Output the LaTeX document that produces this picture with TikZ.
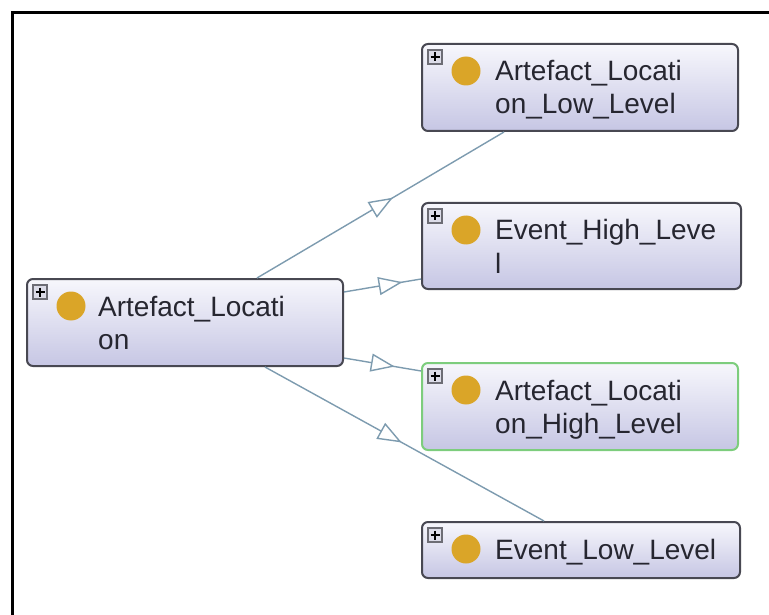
\documentclass[tikz,border=0pt]{standalone}
\usepackage{fontspec}
\setmainfont{Liberation Sans}
\usetikzlibrary{arrows.meta,decorations.markings,calc}
\definecolor{edgecol}{RGB}{125,155,175}
\definecolor{boxtop}{RGB}{247,247,252}
\definecolor{boxbot}{RGB}{198,198,228}
\definecolor{boxline}{RGB}{72,72,82}
\definecolor{greenline}{RGB}{125,205,125}
\definecolor{dotcol}{RGB}{218,165,40}
\definecolor{txtcol}{RGB}{38,38,48}
\definecolor{plusfill}{RGB}{220,220,232}
\newcommand\clsicons[1]{%
  \draw[draw=boxline!80, line width=1.2pt, fill=plusfill]
    ([shift={(7,7)}]#1.north west) rectangle ([shift={(21,21)}]#1.north west);
  \draw[line width=2pt, black]
    ([shift={(9.5,14)}]#1.north west) -- ([shift={(18.5,14)}]#1.north west)
    ([shift={(14,9.5)}]#1.north west) -- ([shift={(14,18.5)}]#1.north west);
  \fill[dotcol] ([shift={(45,28)}]#1.north west) circle[radius=14.5];
}
\begin{document}
\begin{tikzpicture}[x=1pt,y=-1pt,
  cls/.style={draw=boxline, line width=2pt, rounded corners=6pt,
    top color=boxtop, bottom color=boxbot, inner sep=0pt},
  lbl/.style={anchor=base west, text=txtcol, inner sep=0pt,
    font=\fontsize{28}{34}\selectfont},
  edge/.style={draw=edgecol, line width=1.4pt},
  midarrow/.style={postaction={decorate, decoration={markings,
    mark=at position #1 with {\arrow[edgecol, line width=1.4pt]{Triangle[length=24pt,width=18pt,fill=white]}}}}}
]
\useasboundingbox (0,0) rectangle (769,615);
\draw[line width=3pt, line cap=butt] (769,13) -- (12,13) -- (12,615);

% class boxes
\node[cls, minimum width=316pt, minimum height=87pt] (A) at (185,322.5) {};
\node[cls, minimum width=316pt, minimum height=87pt] (B) at (580,87.5) {};
\node[cls, minimum width=319pt, minimum height=86pt] (C) at (581.5,246) {};
\node[cls, draw=greenline, minimum width=316pt, minimum height=87pt] (D) at (580,406.5) {};
\node[cls, minimum width=318pt, minimum height=56pt] (E) at (581,550) {};

\clsicons{A}
\clsicons{B}
\clsicons{C}
\clsicons{D}
\clsicons{E}

% labels
\node[lbl] (a1) at ([shift={(72,38)}]A.north west) {Artefact\_Locati};
\node[lbl] (a2) at ([shift={(72,71)}]A.north west) {on};
\node[lbl] (b1) at ([shift={(74,38)}]B.north west) {Artefact\_Locati};
\node[lbl] (b2) at ([shift={(74,71)}]B.north west) {on\_Low\_Level};
\node[lbl] (c1) at ([shift={(74,38)}]C.north west) {Event\_High\_Leve};
\node[lbl] (c2) at ([shift={(74,71)}]C.north west) {l};
\node[lbl] (d1) at ([shift={(74,38)}]D.north west) {Artefact\_Locati};
\node[lbl] (d2) at ([shift={(74,71)}]D.north west) {on\_High\_Level};
\node[lbl] (e1) at ([shift={(74,38)}]E.north west) {Event\_Low\_Level};

% connectors
\draw[edge, midarrow=0.55] ([shift={(231,0)}]A.north west) -- ([shift={(83,0)}]B.south west);
\draw[edge, midarrow=0.76] ([shift={(0,14)}]A.north east) -- ([shift={(0,77)}]C.north west);
\draw[edge, midarrow=0.66] ([shift={(0,-9)}]A.south east) -- ([shift={(0,9)}]D.north west);
\draw[edge, midarrow=0.49] ([shift={(239,0)}]A.south west) -- ([shift={(123,0)}]E.north west);
\end{tikzpicture}
\end{document}
